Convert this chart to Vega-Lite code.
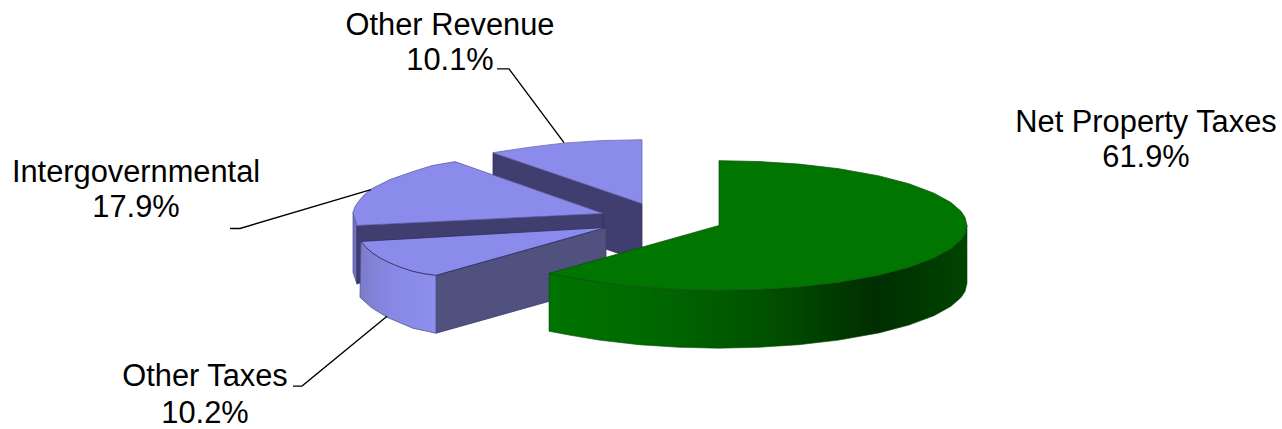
{
"$schema":"https://vega.github.io/schema/vega-lite/v6.json",
"width":1282,"height":429,"padding":0,
"autosize":{"type":"fit","contains":"padding"},
"background":"#ffffff",
"config":{"view":{"stroke":null}},
"datasets":{
"outline":[
{"part":"revenue_face","seq":1,"x":493,"y":153},{"part":"revenue_face","seq":2,"x":642,"y":204},{"part":"revenue_face","seq":3,"x":642,"y":262},{"part":"revenue_face","seq":4,"x":493,"y":211},{"part":"revenue_face","seq":5,"x":493,"y":153},
{"part":"revenue_top","seq":1,"x":493,"y":153},{"part":"revenue_top","seq":2,"x":530,"y":147.5},{"part":"revenue_top","seq":3,"x":563,"y":143.5},{"part":"revenue_top","seq":4,"x":600,"y":141},{"part":"revenue_top","seq":5,"x":642,"y":140},{"part":"revenue_top","seq":6,"x":642,"y":204},{"part":"revenue_top","seq":7,"x":493,"y":153},
{"part":"inter_side","seq":1,"x":353,"y":213},{"part":"inter_side","seq":2,"x":357,"y":226},{"part":"inter_side","seq":3,"x":357,"y":285},{"part":"inter_side","seq":4,"x":353,"y":273},{"part":"inter_side","seq":5,"x":353,"y":213},
{"part":"inter_face","seq":1,"x":357,"y":226},{"part":"inter_face","seq":2,"x":603,"y":214},{"part":"inter_face","seq":3,"x":603,"y":272},{"part":"inter_face","seq":4,"x":357,"y":284},{"part":"inter_face","seq":5,"x":357,"y":226},
{"part":"inter_top","seq":1,"x":455,"y":162},{"part":"inter_top","seq":2,"x":432,"y":166},{"part":"inter_top","seq":3,"x":413,"y":172},{"part":"inter_top","seq":4,"x":390,"y":180},{"part":"inter_top","seq":5,"x":372,"y":189},{"part":"inter_top","seq":6,"x":365,"y":194.5},{"part":"inter_top","seq":7,"x":360,"y":200},{"part":"inter_top","seq":8,"x":355,"y":207},{"part":"inter_top","seq":9,"x":353,"y":213},{"part":"inter_top","seq":10,"x":357,"y":226},{"part":"inter_top","seq":11,"x":603,"y":214},{"part":"inter_top","seq":12,"x":455,"y":162},
{"part":"taxes_face","seq":1,"x":436,"y":276},{"part":"taxes_face","seq":2,"x":606,"y":228},{"part":"taxes_face","seq":3,"x":606,"y":286},{"part":"taxes_face","seq":4,"x":436,"y":334},{"part":"taxes_face","seq":5,"x":436,"y":276},
{"part":"taxes_side","seq":1,"x":361,"y":242},{"part":"taxes_side","seq":2,"x":366,"y":248},{"part":"taxes_side","seq":3,"x":373,"y":254},{"part":"taxes_side","seq":4,"x":381,"y":259},{"part":"taxes_side","seq":5,"x":390,"y":263.5},{"part":"taxes_side","seq":6,"x":401,"y":268},{"part":"taxes_side","seq":7,"x":413,"y":272},{"part":"taxes_side","seq":8,"x":425,"y":274.5},{"part":"taxes_side","seq":9,"x":436,"y":276},{"part":"taxes_side","seq":10,"x":436,"y":334},{"part":"taxes_side","seq":11,"x":413,"y":329},{"part":"taxes_side","seq":12,"x":387,"y":318},{"part":"taxes_side","seq":13,"x":371,"y":308},{"part":"taxes_side","seq":14,"x":360,"y":298},{"part":"taxes_side","seq":15,"x":361,"y":242},
{"part":"taxes_top","seq":1,"x":361,"y":242},{"part":"taxes_top","seq":2,"x":366,"y":248},{"part":"taxes_top","seq":3,"x":373,"y":254},{"part":"taxes_top","seq":4,"x":381,"y":259},{"part":"taxes_top","seq":5,"x":390,"y":263.5},{"part":"taxes_top","seq":6,"x":401,"y":268},{"part":"taxes_top","seq":7,"x":413,"y":272},{"part":"taxes_top","seq":8,"x":425,"y":274.5},{"part":"taxes_top","seq":9,"x":436,"y":276},{"part":"taxes_top","seq":10,"x":606,"y":228},{"part":"taxes_top","seq":11,"x":361,"y":242},
{"part":"property_side","seq":1,"x":549,"y":274},{"part":"property_side","seq":2,"x":569,"y":277.8},{"part":"property_side","seq":3,"x":599,"y":282.9},{"part":"property_side","seq":4,"x":639,"y":287.5},{"part":"property_side","seq":5,"x":679,"y":290.1},{"part":"property_side","seq":6,"x":719,"y":291},{"part":"property_side","seq":7,"x":759,"y":290.1},{"part":"property_side","seq":8,"x":799,"y":287.5},{"part":"property_side","seq":9,"x":839,"y":282.9},{"part":"property_side","seq":10,"x":879,"y":275.7},{"part":"property_side","seq":11,"x":909,"y":267.8},{"part":"property_side","seq":12,"x":934,"y":258.4},{"part":"property_side","seq":13,"x":951,"y":249},{"part":"property_side","seq":14,"x":961,"y":240.2},{"part":"property_side","seq":15,"x":965,"y":234.2},{"part":"property_side","seq":16,"x":967,"y":226},{"part":"property_side","seq":17,"x":967,"y":284},{"part":"property_side","seq":18,"x":965,"y":292.2},{"part":"property_side","seq":19,"x":961,"y":298.2},{"part":"property_side","seq":20,"x":951,"y":307},{"part":"property_side","seq":21,"x":934,"y":316.4},{"part":"property_side","seq":22,"x":909,"y":325.8},{"part":"property_side","seq":23,"x":879,"y":333.7},{"part":"property_side","seq":24,"x":839,"y":340.9},{"part":"property_side","seq":25,"x":799,"y":345.5},{"part":"property_side","seq":26,"x":759,"y":348.1},{"part":"property_side","seq":27,"x":719,"y":349},{"part":"property_side","seq":28,"x":679,"y":348.1},{"part":"property_side","seq":29,"x":639,"y":345.5},{"part":"property_side","seq":30,"x":599,"y":340.9},{"part":"property_side","seq":31,"x":569,"y":335.8},{"part":"property_side","seq":32,"x":549,"y":332},{"part":"property_side","seq":33,"x":549,"y":274},
{"part":"property_top","seq":1,"x":719,"y":161},{"part":"property_top","seq":2,"x":759,"y":161.9},{"part":"property_top","seq":3,"x":799,"y":164.5},{"part":"property_top","seq":4,"x":839,"y":169.1},{"part":"property_top","seq":5,"x":879,"y":176.3},{"part":"property_top","seq":6,"x":909,"y":184.2},{"part":"property_top","seq":7,"x":934,"y":193.6},{"part":"property_top","seq":8,"x":951,"y":203},{"part":"property_top","seq":9,"x":961,"y":211.8},{"part":"property_top","seq":10,"x":965,"y":217.8},{"part":"property_top","seq":11,"x":967,"y":226},{"part":"property_top","seq":12,"x":965,"y":234.2},{"part":"property_top","seq":13,"x":961,"y":240.2},{"part":"property_top","seq":14,"x":951,"y":249},{"part":"property_top","seq":15,"x":934,"y":258.4},{"part":"property_top","seq":16,"x":909,"y":267.8},{"part":"property_top","seq":17,"x":879,"y":275.7},{"part":"property_top","seq":18,"x":839,"y":282.9},{"part":"property_top","seq":19,"x":799,"y":287.5},{"part":"property_top","seq":20,"x":759,"y":290.1},{"part":"property_top","seq":21,"x":719,"y":291},{"part":"property_top","seq":22,"x":679,"y":290.1},{"part":"property_top","seq":23,"x":639,"y":287.5},{"part":"property_top","seq":24,"x":599,"y":282.9},{"part":"property_top","seq":25,"x":569,"y":277.8},{"part":"property_top","seq":26,"x":549,"y":274},{"part":"property_top","seq":27,"x":719,"y":226},{"part":"property_top","seq":28,"x":719,"y":161}
],
"leaders":[
{"slice":"Other Revenue","seq":1,"x":497,"y":69},{"slice":"Other Revenue","seq":2,"x":509,"y":69},{"slice":"Other Revenue","seq":3,"x":564,"y":143},
{"slice":"Intergovernmental","seq":1,"x":230,"y":229},{"slice":"Intergovernmental","seq":2,"x":240,"y":229},{"slice":"Intergovernmental","seq":3,"x":371,"y":190},
{"slice":"Other Taxes","seq":1,"x":293,"y":387},{"slice":"Other Taxes","seq":2,"x":302,"y":387},{"slice":"Other Taxes","seq":3,"x":387,"y":317}
],
"labels":[
{"text":"Other Revenue","x":450,"y":35},{"text":"10.1%","x":450,"y":70},
{"text":"Net Property Taxes","x":1146,"y":132},{"text":"61.9%","x":1146,"y":167},
{"text":"Intergovernmental","x":136,"y":182},{"text":"17.9%","x":136,"y":218},
{"text":"Other Taxes","x":205,"y":387},{"text":"10.2%","x":205,"y":424}
]
},
"data":{"name":"outline"},
"encoding":{
"x":{"field":"x","type":"quantitative","scale":{"domain":[0,1282],"nice":false,"zero":false},"axis":null},
"y":{"field":"y","type":"quantitative","scale":{"domain":[429,0],"nice":false,"zero":false},"axis":null},
"order":{"field":"seq","type":"ordinal"}
},
"layer":[
{"transform":[{"filter":"datum.part=='revenue_face'"}],"mark":{"type":"line","fill":"#403e6e","stroke":"#33335c","strokeWidth":0.8}},
{"transform":[{"filter":"datum.part=='revenue_top'"}],"mark":{"type":"line","fill":"#8b8bec","stroke":"#6a6ab0","strokeWidth":0.8}},
{"transform":[{"filter":"datum.part=='inter_side'"}],"mark":{"type":"line","fill":"#6f6fc4","stroke":"#5c5c9c","strokeWidth":0.8}},
{"transform":[{"filter":"datum.part=='inter_face'"}],"mark":{"type":"line","fill":"#403e6e","stroke":"#2c2c58","strokeWidth":0.8}},
{"transform":[{"filter":"datum.part=='inter_top'"}],"mark":{"type":"line","fill":"#8b8bec","stroke":"#5f5fa4","strokeWidth":0.8}},
{"transform":[{"filter":"datum.part=='taxes_face'"}],"mark":{"type":"line","fill":"#51517f","stroke":"#3d3d70","strokeWidth":0.8}},
{"transform":[{"filter":"datum.part=='taxes_side'"}],"mark":{"type":"line","stroke":"#55558c","strokeWidth":0.8,"fill":{"gradient":"linear","x1":0,"y1":0,"x2":1,"y2":0,"stops":[{"offset":0,"color":"#7c7ccc"},{"offset":0.4,"color":"#8888e4"},{"offset":1,"color":"#8e8eee"}]}}},
{"transform":[{"filter":"datum.part=='taxes_top'"}],"mark":{"type":"line","fill":"#8b8bec","stroke":"#2e2e66","strokeWidth":0.8}},
{"transform":[{"filter":"datum.part=='property_side'"}],"mark":{"type":"line","stroke":"#0e4a0e","strokeWidth":0.6,"fill":{"gradient":"linear","x1":0,"y1":0,"x2":1,"y2":0,"stops":[{"offset":0,"color":"#007300"},{"offset":0.22,"color":"#006a00"},{"offset":0.5,"color":"#005300"},{"offset":0.78,"color":"#002e00"},{"offset":1,"color":"#004400"}]}}},
{"transform":[{"filter":"datum.part=='property_top'"}],"mark":{"type":"line","fill":"#007500","stroke":"#0c4f0c","strokeWidth":0.7}},
{"data":{"name":"leaders"},"mark":{"type":"line","stroke":"#000000","strokeWidth":1.4},"encoding":{"detail":{"field":"slice"}}},
{"data":{"name":"labels"},"mark":{"type":"text","font":"Liberation Sans","fontSize":30.8,"align":"center","baseline":"alphabetic","color":"#000000"},"encoding":{"text":{"field":"text"},"order":null}}
]
}
